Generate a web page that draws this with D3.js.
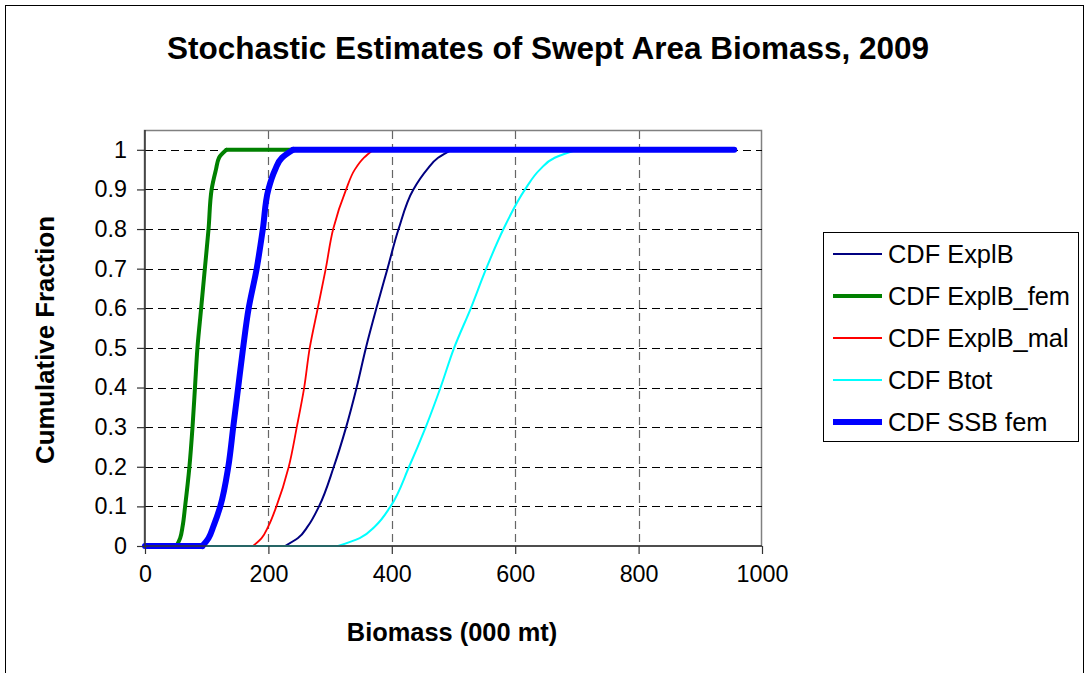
<!DOCTYPE html>
<html><head><meta charset="utf-8">
<script src="https://cdn.jsdelivr.net/npm/d3@7"></script>
<style>html,body{margin:0;padding:0;background:#fff;}svg{display:block;font-family:"Liberation Sans",Arial,sans-serif;}</style>
</head><body>
<script>
// cumulative fraction levels (y) shared by all series
const cdfLevels = [0, 0, 0.02, 0.05, 0.1, 0.2, 0.3, 0.4, 0.5, 0.6, 0.7, 0.8, 0.9, 0.95, 0.98, 1, 1];
// biomass (000 mt) at each level
const explB     = [0, 227, 248, 264, 282, 306, 326, 343, 358, 375, 393, 411, 435, 457, 475, 497, 955];
const explBFem  = [0,  51,  57,  61,  65,  72,  77,  81,  85,  91,  97, 103, 108, 115, 120, 132, 955];
const explBMal  = [0, 175, 189, 200, 213, 233, 246, 258, 267, 280, 293, 305, 326, 340, 355, 370, 955];
const bTot      = [0, 313, 348, 373, 398, 428, 455, 479, 501, 528, 553, 581, 616, 640, 664, 700, 955];
const ssbFem    = [0,  93, 103, 111, 122, 135, 143, 151, 159, 168, 181, 191, 200, 211, 222, 240, 955];
const seriesNames = ["CDF ExplB", "CDF ExplB_fem", "CDF ExplB_mal", "CDF Btot", "CDF SSB fem"];
const xTicks = [0, 200, 400, 600, 800, 1000];
const yTicks = [0, 0.1, 0.2, 0.3, 0.4, 0.5, 0.6, 0.7, 0.8, 0.9, 1];

const styles = [
  {color: "#000080", width: 2},
  {color: "#008000", width: 4},
  {color: "#FF0000", width: 1.8},
  {color: "#00FFFF", width: 2},
  {color: "#0000FF", width: 6}
];
const seriesData = [explB, explBFem, explBMal, bTot, ssbFem];

const W = 1089, H = 673;
const svg = d3.select("body").append("svg").attr("width", W).attr("height", H);
svg.append("rect").attr("x", 0).attr("y", 0).attr("width", W).attr("height", H).attr("fill", "#fff");
svg.append("rect").attr("x", 5.5).attr("y", 5.5).attr("width", 1078).attr("height", 700)
  .attr("fill", "none").attr("stroke", "#000").attr("stroke-width", 1);

const x = d3.scaleLinear().domain([0, 1000]).range([145, 762]);
const y = d3.scaleLinear().domain([0, 1.05]).range([546, 130]);

// plot area border (top/right gray)
svg.append("rect").attr("x", 144.5).attr("y", 130.5).attr("width", 617).attr("height", 415.5)
  .attr("fill", "#fff").attr("stroke", "#808080").attr("stroke-width", 1.5);

// gridlines
svg.append("g").selectAll("line").data(yTicks.filter(d => d > 0)).join("line")
  .attr("x1", 145).attr("x2", 762)
  .attr("y1", d => Math.round(y(d)) + 0.5).attr("y2", d => Math.round(y(d)) + 0.5)
  .attr("stroke", "#000").attr("stroke-width", 1).attr("stroke-dasharray", "8,5");
svg.append("g").selectAll("line").data(xTicks.filter(d => d > 0 && d < 1000)).join("line")
  .attr("y1", 131).attr("y2", 546)
  .attr("x1", d => Math.round(x(d)) + 0.5).attr("x2", d => Math.round(x(d)) + 0.5)
  .attr("stroke", "#666").attr("stroke-width", 1.2).attr("stroke-dasharray", "8,5");

// series: flat tails (linear) + rising part (monotone in y)
const flat = d3.line().x(d => x(d[0])).y(d => y(d[1]));
const rise = d3.line().x(d => x(d[0])).y(d => y(d[1])).curve(d3.curveMonotoneY);
seriesData.forEach((arr, i) => {
  const pts = arr.map((v, j) => [v, cdfLevels[j]]);
  const n = pts.length;
  const g = svg.append("g").attr("fill", "none")
    .attr("stroke", styles[i].color).attr("stroke-width", styles[i].width)
    .attr("stroke-linejoin", "round").attr("stroke-linecap", "round");
  g.append("path").attr("d", flat(pts.slice(0, 2)));
  g.append("path").attr("d", rise(pts.slice(1, n - 1)));
  g.append("path").attr("d", flat(pts.slice(n - 2)));
});

// axes
const xAxis = svg.append("g").attr("transform", "translate(0,546)")
  .call(d3.axisBottom(x).tickValues(xTicks).tickSize(8).tickPadding(11).tickFormat(d3.format("d")));
const yAxis = svg.append("g").attr("transform", "translate(145,0)")
  .call(d3.axisLeft(y).tickValues(yTicks).tickSize(8).tickPadding(10).tickFormat(d => d === 0 || d === 1 ? String(d) : d3.format(".1f")(d)));
[xAxis, yAxis].forEach(a => {
  a.select(".domain").attr("stroke", "#333").attr("stroke-width", 1.5);
  a.selectAll(".tick line").attr("stroke", "#333").attr("stroke-width", 1.2);
  a.selectAll("text").attr("font-family", "Liberation Sans, Arial, sans-serif").attr("font-size", 23.3).attr("fill", "#000");
});
yAxis.select(".domain").attr("d", "M0,546V130");
xAxis.select(".domain").attr("d", "M145,0H762");

// titles
svg.append("text").attr("x", 548).attr("y", 59).attr("text-anchor", "middle")
  .attr("font-size", 31.5).attr("font-weight", "bold").text("Stochastic Estimates of Swept Area Biomass, 2009");
svg.append("text").attr("x", 452).attr("y", 641).attr("text-anchor", "middle")
  .attr("font-size", 25.4).attr("font-weight", "bold").text("Biomass (000 mt)");
svg.append("text").attr("transform", "translate(54,340) rotate(-90)").attr("text-anchor", "middle")
  .attr("font-size", 25.8).attr("font-weight", "bold").text("Cumulative Fraction");

// legend
const lg = svg.append("g");
lg.append("rect").attr("x", 823.5).attr("y", 232.5).attr("width", 255).attr("height", 209)
  .attr("fill", "#fff").attr("stroke", "#000").attr("stroke-width", 1);
seriesNames.forEach((name, i) => {
  const yy = 254 + i * 42;
  lg.append("line").attr("x1", 833).attr("x2", 882).attr("y1", yy).attr("y2", yy)
    .attr("stroke", styles[i].color).attr("stroke-width", styles[i].width);
  lg.append("text").attr("x", 888).attr("y", yy + 9).attr("font-size", 25.4).text(name);
});
</script>
</body></html>
